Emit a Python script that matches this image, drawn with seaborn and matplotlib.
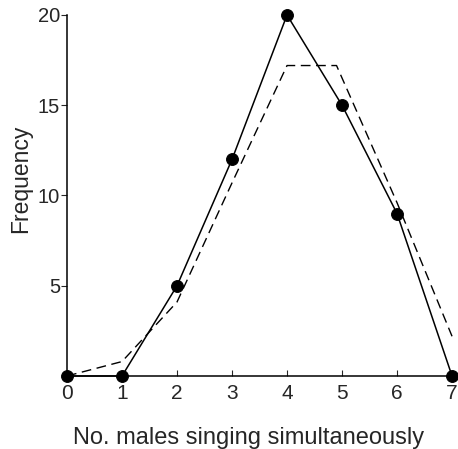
import matplotlib
matplotlib.use('Agg')
import matplotlib.pyplot as plt
import seaborn as sns

# observed and expected frequencies
n_males = [0, 1, 2, 3, 4, 5, 6, 7]
observed = [0, 0, 5, 12, 20, 15, 9, 0]
expected_x = [0, 1, 2, 3, 4, 4.9, 6, 7]
expected = [0, 0.8, 4.1, 10.7, 17.2, 17.2, 9.6, 2.2]

sns.set_style('ticks')
plt.rcParams['font.family'] = ['Liberation Sans', 'DejaVu Sans']

fig = plt.figure(figsize=(4.58, 4.49), dpi=100)
ax = fig.add_axes([0.1463, 0.1626, 0.8407, 0.804])

sns.lineplot(x=expected_x, y=expected, ax=ax, color='black', lw=1.0,
             dashes=False, linestyle=(0, (7, 4)))
sns.lineplot(x=n_males, y=observed, ax=ax, color='black', lw=1.1,
             marker='o', markersize=8.5, markeredgecolor='black', clip_on=False)
for ln in ax.lines:
    ln.set_clip_on(False)

ax.set_xlim(0, 7)
ax.set_ylim(0, 20)
ax.set_xticks(range(8))
ax.set_yticks([5, 10, 15, 20])
ax.tick_params(axis='x', direction='in', length=4, width=0.8, labelsize=15, pad=6)
ax.tick_params(axis='y', direction='out', length=4, width=0.8, labelsize=14.5, pad=1)
sns.despine(ax=ax)
for s in ['left', 'bottom']:
    ax.spines[s].set_linewidth(1.1)
    ax.spines[s].set_color('black')

# axis titles placed in figure coordinates
fig.text(0.5437, 0.012, 'No. males singing simultaneously', fontsize=17,
         ha='center', va='baseline')
fig.text(0.046, 0.601, 'Frequency', fontsize=16.5, rotation=90,
         ha='center', va='center')

fig.savefig('out.png', dpi=100)
